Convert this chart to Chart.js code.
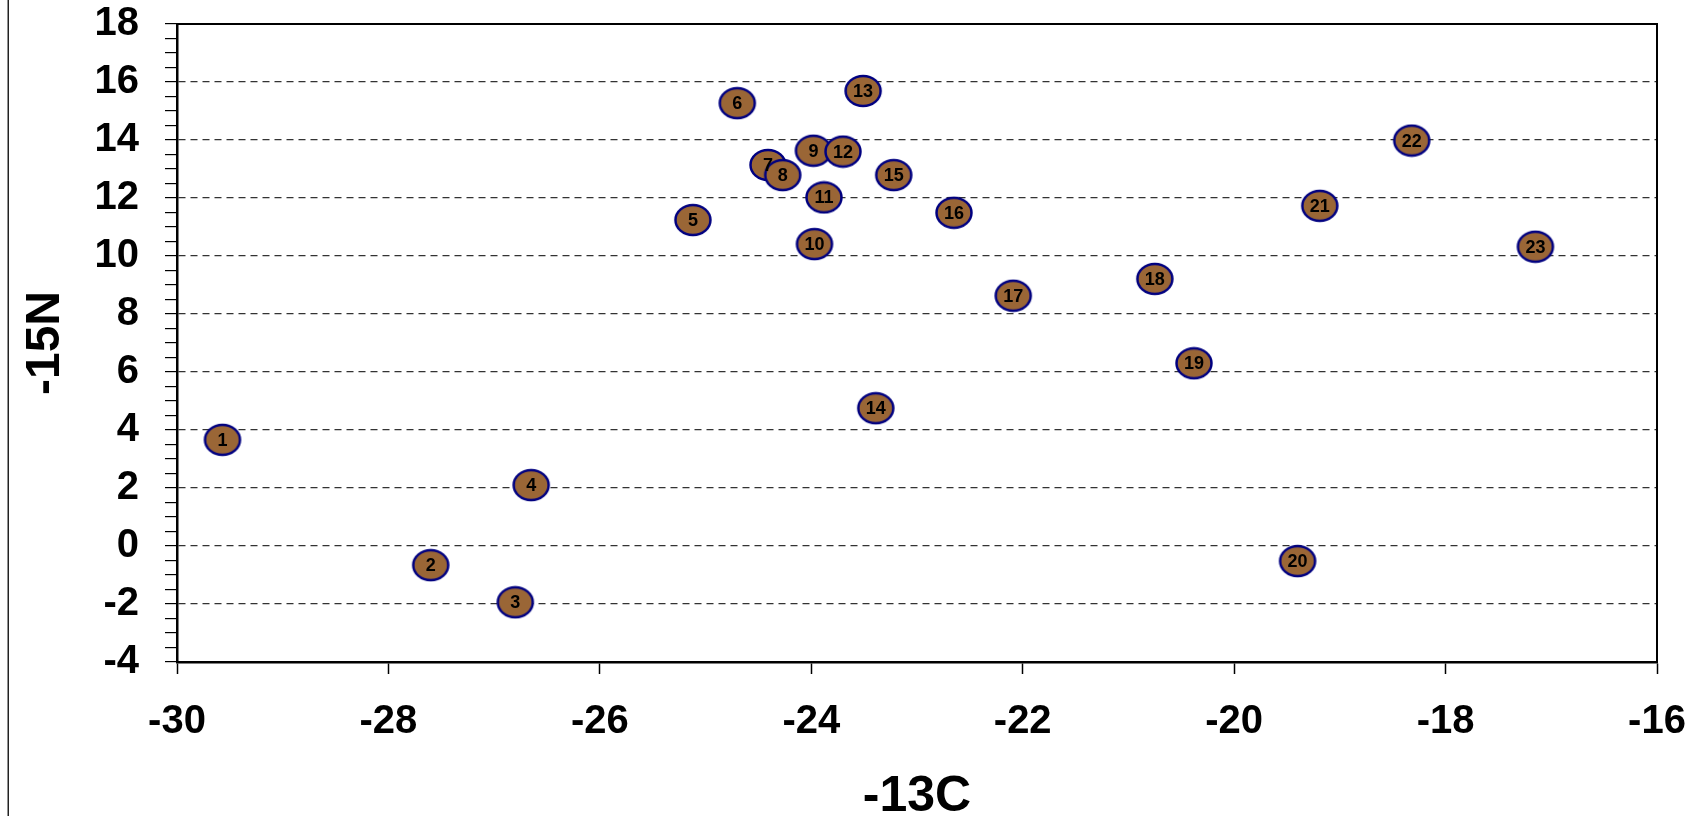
<!DOCTYPE html>
<html>
<head>
<meta charset="utf-8">
<script src="https://cdn.jsdelivr.net/npm/chart.js@4.4.1/dist/chart.umd.min.js"></script>
<style>
  html, body { margin: 0; padding: 0; background: #fff; overflow: hidden; }
  canvas { display: block; }
</style>
</head>
<body>
<canvas id="scatterChart" width="1707" height="816"></canvas>
<script>
// sample numbers and their isotope values
var sampleIds = ['1', '2', '3', '4', '5', '6', '7', '8', '9', '10', '11', '12',
  '13', '14', '15', '16', '17', '18', '19', '20', '21', '22', '23'];
var d13C = [-29.57, -27.60, -26.80, -26.65, -25.12, -24.70, -24.41, -24.27, -23.98, -23.97, -23.88, -23.70,
  -23.51, -23.39, -23.22, -22.65, -22.09, -20.75, -20.38, -19.40, -19.19, -18.32, -17.15];
var d15N = [3.66, -0.66, -1.94, 2.10, 11.24, 15.27, 13.14, 12.79, 13.63, 10.41, 12.02, 13.60,
  15.69, 4.75, 12.79, 11.49, 8.63, 9.21, 6.30, -0.52, 11.73, 13.98, 10.32];

var xMin = -30, xMax = -16, xStep = 2;
var yMin = -4, yMax = 18, yMajor = 2, yMinor = 0.5;

var FONT = '"Liberation Sans", Arial, sans-serif';

// brown ellipse marker with navy rim
function makeMarker() {
  var c = document.createElement('canvas');
  c.width = 40; c.height = 34;
  var g = c.getContext('2d');
  g.beginPath();
  g.ellipse(20, 17, 17.5, 15, 0, 0, Math.PI * 2);
  g.fillStyle = '#9a6636';
  g.fill();
  g.lineWidth = 2.5;
  g.strokeStyle = '#000080';
  g.stroke();
  return c;
}

var points = d13C.map(function (x, i) { return { x: x, y: d15N[i] }; });

// numbers inside the markers, plot frame and the left page border
var extras = {
  id: 'extras',
  afterDatasetsDraw: function (chart) {
    var ctx = chart.ctx;
    var meta = chart.getDatasetMeta(0);
    ctx.save();
    ctx.font = 'bold 18px ' + FONT;
    ctx.fillStyle = '#000';
    ctx.textAlign = 'center';
    ctx.textBaseline = 'middle';
    meta.data.forEach(function (el, i) {
      ctx.fillText(sampleIds[i], el.x, el.y + 1);
    });
    ctx.restore();
  },
  afterDraw: function (chart) {
    var ctx = chart.ctx, a = chart.chartArea;
    ctx.save();
    ctx.strokeStyle = '#000';
    ctx.lineWidth = 2;
    ctx.beginPath();
    ctx.moveTo(a.left, a.top);
    ctx.lineTo(a.right, a.top);
    ctx.lineTo(a.right, a.bottom);
    ctx.stroke();
    ctx.fillStyle = '#222';
    ctx.fillRect(7.5, 0, 1.5, chart.height);
    ctx.restore();
  }
};

var ctx = document.getElementById('scatterChart').getContext('2d');
var chart = new Chart(ctx, {
  type: 'scatter',
  data: {
    datasets: [{
      label: 'samples',
      data: points,
      pointStyle: makeMarker(),
      pointRadius: 18,
      pointHoverRadius: 18
    }]
  },
  options: {
    responsive: false,
    animation: false,
    events: [],
    layout: { padding: { top: 24, right: 50, left: 0, bottom: 0 } },
    plugins: {
      legend: { display: false },
      tooltip: { enabled: false }
    },
    scales: {
      x: {
        type: 'linear',
        min: xMin,
        max: xMax,
        afterFit: function (scale) {
          scale.height = 154;
          scale.paddingLeft = 0;
          scale.paddingRight = 0;
        },
        ticks: {
          stepSize: xStep,
          padding: 24,
          color: '#000',
          font: { family: FONT, size: 40, weight: 'bold' }
        },
        grid: {
          drawOnChartArea: false,
          drawTicks: true,
          tickLength: 12,
          tickColor: '#000',
          tickWidth: 1.5
        },
        border: { color: '#000', width: 2.5 },
        title: {
          display: true,
          text: '-13C',
          color: '#000',
          font: { family: FONT, size: 50, weight: 'bold' },
          padding: { top: 0, bottom: -11 }
        }
      },
      y: {
        type: 'linear',
        min: yMin,
        max: yMax,
        afterFit: function (scale) {
          scale.width = 177;
          scale.paddingTop = 0;
          scale.paddingBottom = 0;
        },
        ticks: {
          stepSize: yMinor,
          autoSkip: false,
          padding: 26,
          color: '#000',
          font: { family: FONT, size: 40, weight: 'bold' },
          callback: function (v) { return v % yMajor === 0 ? String(v) : ''; }
        },
        grid: {
          drawTicks: true,
          tickLength: 12,
          tickColor: '#000',
          tickWidth: 1.2,
          color: function (c) {
            var v = c.tick.value;
            return (v % yMajor === 0 && v > yMin && v < yMax) ? '#333' : 'rgba(0,0,0,0)';
          },
          lineWidth: 1.2,
          tickBorderDash: []
        },
        border: { color: '#000', width: 2.5, dash: [7, 5] },
        title: {
          display: true,
          text: '-15N',
          color: '#000',
          font: { family: FONT, size: 48, weight: 'bold' },
          padding: { top: 17, bottom: 0 }
        }
      }
    }
  },
  plugins: [extras]
});
</script>
</body>
</html>
